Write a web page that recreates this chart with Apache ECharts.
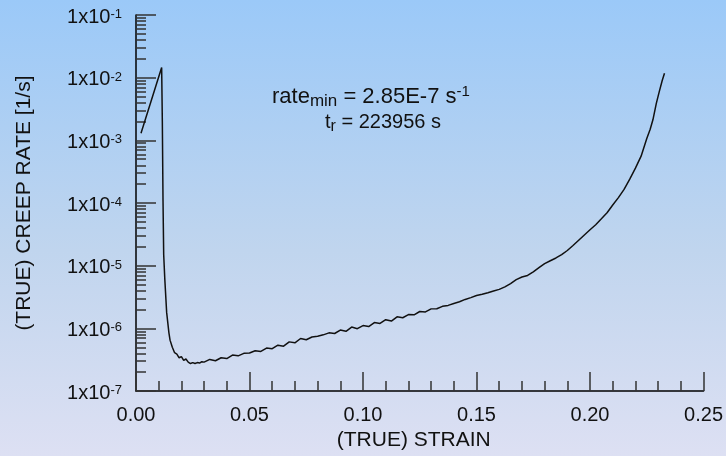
<!DOCTYPE html>
<html>
<head>
<meta charset="utf-8">
<script src="https://cdn.jsdelivr.net/npm/echarts@6/dist/echarts.min.js"></script>
<style>
  body { margin: 0; }
  #creep_chart {
    width: 726px;
    height: 456px;
    background: linear-gradient(to bottom, #9bc9f8 0%, #c0d5ee 55%, #dde0f3 100%);
  }
</style>
</head>
<body>
<div id="creep_chart"></div>
<script>
let strain = [
  0.0022, 0.0113, 0.0116, 0.0119, 0.0122, 0.0127, 0.0135, 0.0145,
  0.0150, 0.0160, 0.0170, 0.0180, 0.0190, 0.0200, 0.0210, 0.0220,
  0.0230, 0.0240, 0.0250, 0.0260, 0.0270, 0.0280, 0.0290,
  0.0300, 0.0325, 0.0350, 0.0375, 0.0400, 0.0425, 0.0450, 0.0475,
  0.0500, 0.0525, 0.0550, 0.0575, 0.0600, 0.0625, 0.0650, 0.0675,
  0.0700, 0.0725, 0.0750, 0.0775, 0.0800, 0.0825, 0.0850, 0.0875,
  0.0900, 0.0925, 0.0950, 0.0975, 0.1000, 0.1025, 0.1050, 0.1075,
  0.1100, 0.1125, 0.1150, 0.1175, 0.1200, 0.1225, 0.1250, 0.1275,
  0.1300, 0.1325, 0.1350, 0.1375, 0.1400, 0.1425, 0.1450, 0.1475,
  0.1500, 0.1525, 0.1550, 0.1575, 0.1600, 0.1625, 0.1650, 0.1675,
  0.1700, 0.1725, 0.1750, 0.1775, 0.1800, 0.1825, 0.1850, 0.1875,
  0.1900, 0.1925, 0.1950, 0.1975, 0.2000, 0.2025, 0.2050, 0.2075,
  0.2100, 0.2125, 0.2150, 0.2175, 0.2200, 0.2225, 0.2250, 0.2265,
  0.2277, 0.2292, 0.2305, 0.2318, 0.2328
];
let creepRate = [
  1.3e-3, 1.45e-2, 2.0e-3, 1.1e-4, 1.5e-5, 6.0e-6, 1.8e-6, 8.5e-7,
  6.5e-7, 5.0e-7, 4.1e-7, 3.9e-7, 3.4e-7, 3.55e-7, 3.1e-7, 3.25e-7,
  2.9e-7, 2.75e-7, 2.85e-7, 2.75e-7, 2.85e-7, 2.8e-7, 2.95e-7,
  2.9e-7, 3.2e-7, 3.05e-7, 3.4e-7, 3.3e-7, 3.75e-7, 3.65e-7, 4.0e-7,
  4.05e-7, 4.4e-7, 4.3e-7, 4.85e-7, 4.75e-7, 5.4e-7, 5.2e-7, 6.1e-7,
  5.9e-7, 6.9e-7, 6.6e-7, 7.3e-7, 7.5e-7, 7.9e-7, 8.5e-7, 8.3e-7,
  9.4e-7, 9.0e-7, 1.05e-6, 9.9e-7, 1.11e-6, 1.07e-6, 1.24e-6, 1.2e-6,
  1.38e-6, 1.31e-6, 1.53e-6, 1.48e-6, 1.66e-6, 1.65e-6, 1.86e-6, 1.83e-6,
  2.05e-6, 2.06e-6, 2.25e-6, 2.33e-6, 2.5e-6, 2.66e-6, 2.9e-6, 3.1e-6,
  3.35e-6, 3.5e-6, 3.7e-6, 3.95e-6, 4.2e-6, 4.6e-6, 5.2e-6, 6.0e-6,
  6.6e-6, 7.0e-6, 8.0e-6, 9.3e-6, 1.08e-5, 1.2e-5, 1.33e-5, 1.5e-5,
  1.75e-5, 2.1e-5, 2.55e-5, 3.1e-5, 3.75e-5, 4.5e-5, 5.6e-5, 7.0e-5,
  9.3e-5, 1.22e-4, 1.65e-4, 2.4e-4, 3.6e-4, 5.6e-4, 1.07e-3, 1.5e-3,
  2.13e-3, 3.9e-3, 6.0e-3, 9.0e-3, 1.18e-2
];
// minor ticks of the log axis (2..9 in each decade)
let minorRates = [];
for (let e = -7; e < -1; e++) {
  for (let k = 2; k <= 9; k++) {
    minorRates.push(Number((k * Math.pow(10, e)).toPrecision(2)));
  }
}
let rateMinText = "2.85E-7";
let ruptureText = "223956";

let font = "Liberation Sans, Arial, sans-serif";
let myChart = echarts.init(document.getElementById("creep_chart"));
let lineData = [];
for (let i = 0; i < strain.length; i++) {
  lineData.push([strain[i], creepRate[i]]);
}
let option = {
  animation: false,
  textStyle: { fontFamily: font, color: "#111" },
  grid: { left: 136, right: 22, top: 15, bottom: 64 },
  xAxis: {
    type: "value",
    min: 0,
    max: 0.25,
    interval: 0.05,
    name: "(TRUE) STRAIN",
    nameLocation: "middle",
    nameGap: 37,
    nameTextStyle: { fontSize: 21, color: "#111", fontFamily: font, padding: [0, 12, 0, 0] },
    axisLine: { lineStyle: { color: "#000", width: 1.5 } },
    axisTick: { inside: true, length: 19, lineStyle: { color: "#333", width: 1.5 } },
    minorTick: { show: true, splitNumber: 5, length: 10, lineStyle: { color: "#333", width: 1.5 } },
    axisLabel: {
      fontSize: 20,
      color: "#111",
      margin: 14,
      formatter: function (v) { return v.toFixed(2); },
    },
    splitLine: { show: false },
  },
  yAxis: [
    {
      type: "log",
      logBase: 10,
      min: 1e-7,
      max: 1e-1,
      interval: 1,
      name: "(TRUE) CREEP RATE [1/s]",
      nameLocation: "middle",
      nameGap: 101,
      nameTextStyle: { fontSize: 21, color: "#111", fontFamily: font },
      axisLine: { show: true, lineStyle: { color: "#000", width: 1.5 } },
      axisTick: { inside: true, length: 20, lineStyle: { color: "#333", width: 1.5 } },
      axisLabel: {
        fontSize: 20,
        color: "#111",
        margin: 14,
        lineHeight: 24,
        padding: [4, 0, 0, 0],
        formatter: function (v) {
          return "1x10{sup|" + Math.round(Math.log10(v)) + "}";
        },
        rich: {
          sup: { fontSize: 13, verticalAlign: "middle", padding: [0, 0, 5, 0], color: "#111", fontFamily: font },
        },
      },
      splitLine: { show: false },
    },
    {
      type: "log",
      logBase: 10,
      min: 1e-7,
      max: 1e-1,
      position: "left",
      axisLine: { show: false },
      axisLabel: { show: false },
      axisTick: { show: true, inside: true, length: 10, customValues: minorRates, lineStyle: { color: "#333", width: 1.5 } },
      splitLine: { show: false },
    },
  ],
  graphic: [
    {
      type: "text",
      left: 272,
      top: 84,
      style: {
        text: "{b|rate}{sub|min}{b| = " + rateMinText + " s}{sup|-1}",
        rich: {
          b: { fontSize: 22, fontFamily: font, fill: "#111", lineHeight: 26 },
          sub: { fontSize: 17, fontFamily: font, fill: "#111", verticalAlign: "bottom", lineHeight: 16 },
          sup: { fontSize: 15, fontFamily: font, fill: "#111", verticalAlign: "top", lineHeight: 14 },
        },
      },
    },
    {
      type: "text",
      left: 325,
      top: 112,
      style: {
        text: "{b|t}{sub|r}{b| = " + ruptureText + " s}",
        rich: {
          b: { fontSize: 20, fontFamily: font, fill: "#111", lineHeight: 26 },
          sub: { fontSize: 16, fontFamily: font, fill: "#111", verticalAlign: "bottom", lineHeight: 16 },
        },
      },
    },
  ],
  series: [
    {
      type: "line",
      yAxisIndex: 0,
      symbol: "none",
      lineStyle: { color: "#111", width: 1.5 },
      data: lineData,
    },
  ],
};
myChart.setOption(option);
</script>
</body>
</html>
